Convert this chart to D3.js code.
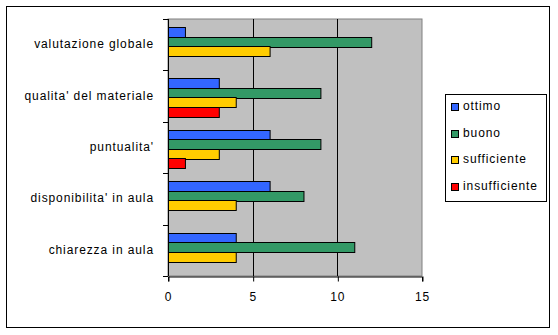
<!DOCTYPE html>
<html><head><meta charset="utf-8">
<script src="https://cdn.jsdelivr.net/npm/d3@7"></script>
<style>
body{margin:0;background:#fff;}
text{font-family:"Liberation Sans",Arial,sans-serif;font-size:12px;letter-spacing:0.9px;fill:#000;}
</style></head><body>
<svg id="c" width="558" height="335"></svg>
<script>
const categories = ["valutazione globale","qualita' del materiale","puntualita'","disponibilita' in aula","chiarezza in aula"];
const series = ["ottimo","buono","sufficiente","insufficiente"];
const colors = ["#3366FF","#339966","#FFCC00","#FF0000"];
const ottimo = [1,3,6,6,4];
const buono = [12,9,9,8,11];
const sufficiente = [6,4,3,4,4];
const insufficiente = [0,3,1,0,0];
const xTicks = [0,5,10,15];
const values = [ottimo,buono,sufficiente,insufficiente];

(function(){
const svg = d3.select("#c");
svg.append("rect").attr("x",6.5).attr("y",6.5).attr("width",543).attr("height",321)
  .attr("fill","#fff").attr("stroke","#000").attr("stroke-width",1);

const pL=168, pR=422, pT=19, pB=276;
const x = d3.scaleLinear().domain([0,15]).range([pL,pR]);
const y = d3.scaleBand().domain(categories).range([pT,pB]).padding(0);
const ys = d3.scaleBand().domain(series).range([0,y.bandwidth()]).paddingInner(0).paddingOuter(0.7).align(0.6);

svg.append("rect").attr("x",pL).attr("y",pT).attr("width",pR-pL).attr("height",pB-pT)
  .attr("fill","#C0C0C0").attr("stroke","#808080");

// gridlines
svg.append("g").selectAll("line").data(xTicks.filter(d=>d>0&&d<15)).join("line")
  .attr("x1",d=>Math.round(x(d))+0.5).attr("x2",d=>Math.round(x(d))+0.5)
  .attr("y1",pT).attr("y2",pB).attr("stroke","#000");

// bars
const data = [];
categories.forEach((c,i)=>series.forEach((s,j)=>data.push({c,s,v:values[j][i],col:colors[j]})));
svg.append("g").selectAll("rect").data(data.filter(d=>d.v>0)).join("rect")
  .attr("x",x(0)+0.5)
  .attr("y",d=>Math.round(y(d.c)+ys(d.s))+0.5)
  .attr("width",d=>x(d.v)-x(0))
  .attr("height",Math.round(ys.bandwidth()))
  .attr("fill",d=>d.col).attr("stroke","#000").attr("stroke-width",1);

// axes
const xAxis = d3.axisBottom(x).tickValues(xTicks).tickSize(5).tickPadding(11);
const gx = svg.append("g").attr("transform",`translate(0,${pB+0.5})`).call(xAxis);
gx.select(".domain").attr("stroke","#000");
gx.selectAll(".tick line").attr("stroke","#000").attr("transform","translate(0.5,0)");
gx.attr("font-family",null).attr("font-size",null);

const ya = svg.append("g");
ya.append("line").attr("x1",pL+0.5).attr("x2",pL+0.5).attr("y1",pT).attr("y2",pB).attr("stroke","#000");
const bandEdges = categories.map(c=>y(c)).concat([pB]);
ya.selectAll(".tk").data(bandEdges).join("line").attr("class","tk")
  .attr("x1",pL-5).attr("x2",pL).attr("y1",d=>Math.round(d)+0.5).attr("y2",d=>Math.round(d)+0.5).attr("stroke","#000");
ya.selectAll("text").data(categories).join("text")
  .attr("x",154).attr("y",d=>y(d)+y.bandwidth()/2+3.5).attr("text-anchor","end").text(d=>d);

// legend
const lg = svg.append("g");
lg.append("rect").attr("x",445.5).attr("y",94.5).attr("width",101).attr("height",107).attr("fill","#fff").attr("stroke","#000");
const ly = d3.scalePoint().domain(series).range([107,187]);
lg.selectAll(".sw").data(series).join("rect").attr("class","sw")
  .attr("x",451.5).attr("y",d=>Math.round(ly(d))-3.5).attr("width",7).attr("height",7)
  .attr("fill",(d,i)=>colors[i]).attr("stroke","#000");
lg.selectAll("text").data(series).join("text")
  .attr("x",463).attr("y",d=>ly(d)+3).text(d=>d);
})();
</script>
</body></html>
